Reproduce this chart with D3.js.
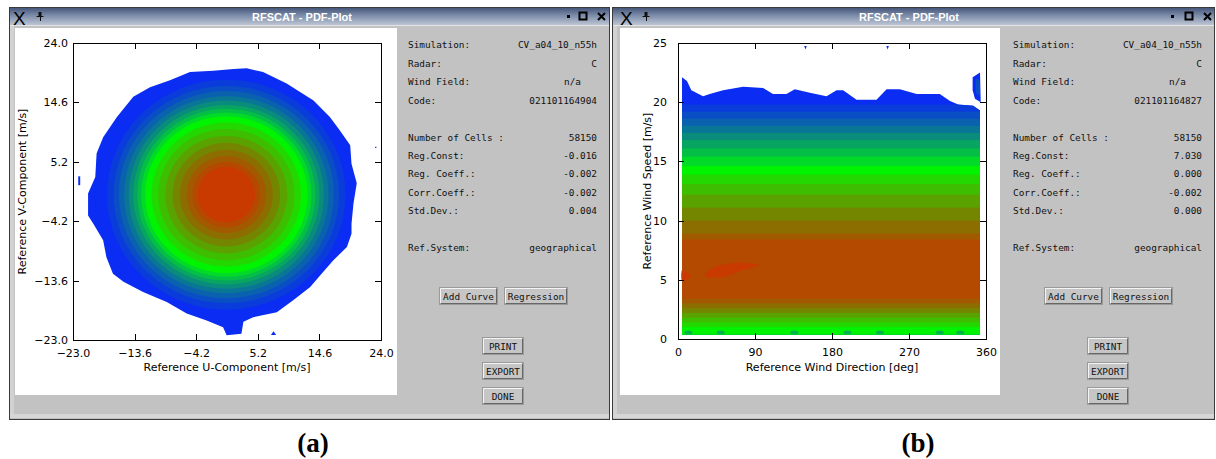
<!DOCTYPE html>
<html><head><meta charset="utf-8">
<script src="https://cdn.jsdelivr.net/npm/d3@7"></script>
<style>body{margin:0;background:#fff;overflow:hidden}svg{display:block}</style>
</head><body>
<svg id="c" width="1216" height="459"></svg>
<script>
// ---------------- data ----------------
const levelColors = ["#0b2cf2","#0a3cdc","#0a4ec6","#0a62ae","#0a7696","#0a8c7c","#07a462","#04be46","#02da28","#00f400","#22d800","#3ebe00","#5aa200","#748600","#8c6e00","#a25a00","#b44a00","#c83a00"];

const uvTicks = [-23.0, -13.6, -4.2, 5.2, 14.6, 24.0];
const speedTicks = [0, 5, 10, 15, 20, 25];
const dirTicks = [0, 90, 180, 270, 360];

// panel (a): outer (lowest) contour of the U/V PDF, [u, v] in m/s
const uvOuterBoundary = [[1.5,19.9],[3.5,20.0],[6.0,19.4],[9.6,17.6],[13.7,14.9],[16.2,12.3],[17.7,10.2],[19.3,7.8],[19.5,4.9],[20.3,1.8],[19.8,-1.4],[19.5,-4.6],[19.5,-6.2],[18.8,-8.3],[16.7,-10.4],[14.7,-12.8],[13.2,-14.6],[10.6,-16.7],[8.1,-18.6],[4.5,-19.4],[3.0,-20.1],[2.7,-22.0],[0.45,-22.25],[-0.1,-21.0],[-2.6,-19.9],[-5.65,-18.8],[-8.7,-17.0],[-12.3,-15.4],[-15.3,-13.8],[-16.9,-12.5],[-17.9,-9.9],[-18.4,-7.2],[-19.9,-4.6],[-20.7,-3.3],[-20.7,0.2],[-19.6,2.8],[-19.4,6.5],[-18.4,9.1],[-16.3,12.3],[-13.8,15.5],[-11.25,17.0],[-8.2,18.1],[-5.15,19.4],[-1.6,19.6]];
// panel (a): radii of the inner contour levels 1..17 around the centre
const uvCenter = [0.4, 0.0];
const uvBandRadii = [18.2, 17.2, 16.4, 15.6, 14.9, 14.2, 13.6, 13.0, 12.4, 11.4, 10.4, 9.3, 8.2, 7.1, 6.1, 5.2, 4.4];
// panel (a): small isolated patches
const uvSpecks = [
  [[-22.2,1.5],[-21.9,1.5],[-21.9,2.9],[-22.2,2.9]],
  [[7.2,-22.2],[8.0,-22.2],[7.6,-21.6]],
  [[23.1,7.4],[23.3,7.4],[23.3,7.6],[23.1,7.6]]
];

// panel (b): upper (lowest level) contour, [direction deg, speed m/s]
const dirTopBoundary = [[4.7,22.1],[10.5,21.8],[15.6,21.0],[29.3,20.5],[37.1,20.7],[52.7,21.0],[76,21.3],[99.5,21.2],[111,20.7],[126.8,20.7],[136.5,21.1],[154,20.8],[173.6,20.5],[185.3,21.0],[193,21.0],[208.7,20.2],[232,20.2],[243.8,21.1],[259.4,21.1],[278.9,20.7],[306,20.7],[317.9,20.1],[327.6,19.8],[345,19.7],[353,19.3]];
// panel (b): contour levels 1..16, lower / upper speed
const speedBandLow  = [0.35, 0.35, 0.35, 0.35, 0.35, 0.35, 0.35, 0.35, 0.38, 1.0, 1.4, 1.8, 2.2, 2.6, 3.0, 3.4];
const speedBandHigh = [19.8, 19.2, 18.6, 18.0, 17.4, 16.8, 16.1, 15.4, 14.6, 13.9, 13.1, 12.2, 11.1, 10.0, 8.9, 8.4];
const speedBottom = 0.35;
// panel (b): highest level patches
const speedPeakPatches = [
  [[31.2,5.41],[44.9,6.16],[72.2,6.44],[95.6,6.25],[76,5.83],[52.7,5.21],[37,5.21]],
  [[4.7,5.8],[15.5,5.3],[4.7,4.9]]
];
// panel (b): detached patch at upper right, and tiny marks at top
const dirBlob = [[344.4,22.1],[353,22.5],[353.8,20.0],[347.1,20.3],[344.4,21.0]];
const dirBlobInner = [[348,21.9],[352.5,21.8],[352.8,20.6],[348.5,20.8]];
const dirSpecks = [[[147.5,24.75],[150.5,24.75],[149,24.45]],[[243.5,24.75],[246.5,24.75],[245,24.45]]];
const dirBottomSpots = [12, 50, 136, 198, 236, 306, 330];

// statistics panels
const statLabels = ["Simulation:", "Radar:", "Wind Field:", "Code:", "", "Number of Cells :", "Reg.Const:", "Reg. Coeff.:", "Corr.Coeff.:", "Std.Dev.:", "", "Ref.System:"];
const statValuesA = ["CV_a04_10_n55h", "C", "n/a", "021101164904", "", "58150", "-0.016", "-0.002", "-0.002", "0.004", "", "geographical"];
const statValuesB = ["CV_a04_10_n55h", "C", "n/a", "021101164827", "", "58150", "7.030", "0.000", "-0.002", "0.000", "", "geographical"];
const buttonsTop = ["Add Curve", "Regression"];
const buttonsSide = ["PRINT", "EXPORT", "DONE"];
const windowTitle = "RFSCAT - PDF-Plot";
const captions = ["(a)", "(b)"];

// ---------------- drawing ----------------
const svg = d3.select("#c");
const defs = svg.append("defs");
const tg = defs.append("linearGradient").attr("id","tb").attr("x1",0).attr("y1",0).attr("x2",0).attr("y2",1);
tg.append("stop").attr("offset",0).attr("stop-color","#46577c");
tg.append("stop").attr("offset",0.45).attr("stop-color","#7d8daa");
tg.append("stop").attr("offset",1).attr("stop-color","#bcc5d4");

const win = [
  {x0:9, x1:610, wx0:15, wx1:397, titleCx:302, dot:567, sq:579, cross:598, xIcon:13, pin:40, off:0},
  {x0:612, x1:1215, wx0:620, wx1:1000, titleCx:909, dot:1171, sq:1185, cross:1204, xIcon:620, pin:646, off:605}
];

win.forEach((w, wi) => {
  const g = svg.append("g");
  g.append("rect").attr("x", w.x0).attr("y", 8).attr("width", w.x1 - w.x0).attr("height", 412).attr("fill", "#c2c2c2");
  g.append("rect").attr("x", w.x0 + 1).attr("y", 9).attr("width", 4).attr("height", 409).attr("fill", "#d2d2d2");
  g.append("rect").attr("x", w.x0 + 1).attr("y", 414).attr("width", w.x1 - w.x0 - 2).attr("height", 4).attr("fill", "#d6d6d6");
  g.append("rect").attr("x", w.x0 + 0.5).attr("y", 7.5).attr("width", w.x1 - w.x0 - 1).attr("height", 412).attr("fill", "none").attr("stroke", "#3a3a3a");
  g.append("rect").attr("x", w.x0 + 1).attr("y", 8).attr("width", w.x1 - w.x0 - 2).attr("height", 17).attr("fill", "url(#tb)");
  g.append("line").attr("x1", w.x0 + 1).attr("x2", w.x1 - 1).attr("y1", 25.5).attr("y2", 25.5).attr("stroke", "#e4e4e4");
  g.append("rect").attr("x", w.wx0).attr("y", 28).attr("width", w.wx1 - w.wx0).attr("height", 367).attr("fill", "#fff");
  // title bar items
  g.append("text").attr("x", w.titleCx).attr("y", 21).attr("text-anchor", "middle")
    .attr("font-family", "Liberation Sans").attr("font-weight", "bold").attr("font-size", 11).attr("fill", "#fff").text(windowTitle);
  g.append("text").attr("x", w.xIcon).attr("y", 24.5).attr("font-family", "Liberation Sans").attr("font-size", 19).attr("fill", "#000").text("X");
  g.append("rect").attr("x", w.pin - 1.5).attr("y", 12).attr("width", 3).attr("height", 4).attr("fill", "#111");
  g.append("line").attr("x1", w.pin - 3.5).attr("x2", w.pin + 3.5).attr("y1", 16.5).attr("y2", 16.5).attr("stroke", "#111");
  g.append("line").attr("x1", w.pin + 0.5).attr("x2", w.pin + 0.5).attr("y1", 16).attr("y2", 21).attr("stroke", "#111");
  g.append("rect").attr("x", w.dot).attr("y", 15).attr("width", 3).attr("height", 3).attr("fill", "#000");
  g.append("rect").attr("x", w.sq + 0.5).attr("y", 12.5).attr("width", 7).attr("height", 7).attr("fill", "none").attr("stroke", "#000").attr("stroke-width", 2);
  g.append("path").attr("d", `M${w.cross},13L${w.cross + 7},20M${w.cross + 7},13L${w.cross},20`).attr("stroke", "#000").attr("stroke-width", 2);
  // statistics
  const st = g.append("g").attr("font-family", "DejaVu Sans Mono").attr("font-size", 9.4).attr("fill", "#111");
  const vals = wi === 0 ? statValuesA : statValuesB;
  statLabels.forEach((lab, i) => {
    if (!lab) return;
    const y = 48.3 + i * 18.45;
    st.append("text").attr("x", 408 + w.off).attr("y", y).text(lab);
    const v = vals[i];
    st.append("text").attr("x", (v === "n/a" ? 581 : 597) + w.off).attr("y", y).attr("text-anchor", "end").text(v);
  });
  // buttons
  const btn = (x, y, bw, bh, label) => {
    const b = g.append("g");
    b.append("rect").attr("x", x + 0.5).attr("y", y + 0.5).attr("width", bw).attr("height", bh).attr("fill", "#c6c6c6").attr("stroke", "#9a9a9a");
    b.append("path").attr("d", `M${x + 1.5},${y + bh - 0.5}V${y + 1.5}H${x + bw - 0.5}`).attr("fill", "none").attr("stroke", "#f4f4f4");
    b.append("path").attr("d", `M${x + 1.5},${y + bh - 0.5}H${x + bw - 0.5}V${y + 1.5}`).attr("fill", "none").attr("stroke", "#666");
    b.append("text").attr("x", x + bw / 2 + 0.5).attr("y", y + bh / 2 + 4).attr("text-anchor", "middle")
      .attr("font-family", "DejaVu Sans Mono").attr("font-size", 9.4).attr("fill", "#111").text(label);
  };
  btn(439 + w.off, 287, 58, 17, buttonsTop[0]);
  btn(504 + w.off, 287, 63, 17, buttonsTop[1]);
  buttonsSide.forEach((lab, i) => btn(482 + w.off, 337 + i * 25, 41, 17, lab));
});

// caption
svg.selectAll("text.cap").data(captions).join("text").attr("class", "cap")
  .attr("x", (d, i) => i === 0 ? 313 : 918).attr("y", 452).attr("text-anchor", "middle")
  .attr("font-family", "Liberation Serif").attr("font-weight", "bold").attr("font-size", 27).attr("fill", "#000").text(d => d);

// ----- panel (a) -----
const xA = d3.scaleLinear().domain([-23, 24]).range([73, 381]);
const yA = d3.scaleLinear().domain([-23, 24]).range([340, 43]);
const gA = svg.append("g");
const lineA = d3.line().x(d => xA(d[0])).y(d => yA(d[1])).curve(d3.curveLinearClosed);
gA.append("path").attr("d", lineA(uvOuterBoundary)).attr("fill", levelColors[0]);
gA.selectAll("ellipse").data(uvBandRadii).join("ellipse")
  .attr("cx", xA(uvCenter[0])).attr("cy", yA(uvCenter[1]))
  .attr("rx", r => xA(uvCenter[0] + r) - xA(uvCenter[0]))
  .attr("ry", r => yA(uvCenter[1] - r) - yA(uvCenter[1]))
  .attr("fill", (r, i) => levelColors[i + 1]);
gA.selectAll("path.speck").data(uvSpecks).join("path").attr("class", "speck").attr("d", lineA).attr("fill", levelColors[0]);

function styleAxis(g) {
  g.attr("font-family", "DejaVu Sans").attr("font-size", 11);
  g.selectAll("line,path").attr("stroke", "#000").attr("shape-rendering", "crispEdges");
  g.selectAll("text").attr("fill", "#000");
}
const fmt1 = d3.format(".1f");
svg.append("g").attr("transform", `translate(0,340)`).call(d3.axisBottom(xA).tickValues(uvTicks).tickFormat(fmt1).tickSize(-6).tickSizeOuter(0).tickPadding(9)).call(styleAxis);
svg.append("g").attr("transform", `translate(0,43)`).call(d3.axisTop(xA).tickValues(uvTicks).tickFormat("").tickSize(-6).tickSizeOuter(0)).call(styleAxis);
svg.append("g").attr("transform", `translate(73,0)`).call(d3.axisLeft(yA).tickValues(uvTicks).tickFormat(fmt1).tickSize(-6).tickSizeOuter(0).tickPadding(5)).call(styleAxis);
svg.append("g").attr("transform", `translate(381,0)`).call(d3.axisRight(yA).tickValues(uvTicks).tickFormat("").tickSize(-6).tickSizeOuter(0)).call(styleAxis);
svg.append("text").attr("x", 227).attr("y", 371).attr("text-anchor", "middle").attr("font-family", "DejaVu Sans").attr("font-size", 11).text("Reference U-Component [m/s]");
svg.append("text").attr("transform", "translate(26,191.5) rotate(-90)").attr("text-anchor", "middle").attr("font-family", "DejaVu Sans").attr("font-size", 11).text("Reference V-Component [m/s]");

// ----- panel (b) -----
const xB = d3.scaleLinear().domain([0, 360]).range([678, 986]);
const yB = d3.scaleLinear().domain([0, 25]).range([339, 43]);
const gB = svg.append("g");
const areaTop = d3.area().x(d => xB(d[0])).y0(yB(speedBottom)).y1(d => yB(d[1]));
defs.append("clipPath").attr("id", "clipB").append("path").attr("d", areaTop(dirTopBoundary));
gB.append("path").attr("d", areaTop(dirTopBoundary)).attr("fill", levelColors[0]);
const dMin = dirTopBoundary[0][0], dMax = dirTopBoundary[dirTopBoundary.length - 1][0];
const bands = gB.append("g").attr("clip-path", "url(#clipB)");
bands.selectAll("rect").data(speedBandHigh).join("rect")
  .attr("x", xB(dMin)).attr("width", xB(dMax) - xB(dMin))
  .attr("y", d => yB(d)).attr("height", (d, i) => yB(speedBandLow[i]) - yB(d))
  .attr("fill", (d, i) => levelColors[i + 1]);
bands.selectAll("ellipse").data(dirBottomSpots).join("ellipse")
  .attr("cx", d => xB(d)).attr("cy", yB(0.55)).attr("rx", 4).attr("ry", 2).attr("fill", levelColors[6]).attr("opacity", 0.8);
const lineB = d3.line().x(d => xB(d[0])).y(d => yB(d[1])).curve(d3.curveCardinalClosed.tension(0.3));
const lineBL = d3.line().x(d => xB(d[0])).y(d => yB(d[1])).curve(d3.curveLinearClosed);
gB.selectAll("path.peak").data(speedPeakPatches).join("path").attr("class", "peak").attr("d", lineB).attr("fill", levelColors[17]);
gB.append("path").attr("d", lineBL(dirBlob)).attr("fill", levelColors[0]);
gB.append("path").attr("d", lineB(dirBlobInner)).attr("fill", levelColors[2]);
gB.selectAll("path.speck").data(dirSpecks).join("path").attr("class", "speck").attr("d", lineBL).attr("fill", levelColors[0]);

svg.append("g").attr("transform", `translate(0,339)`).call(d3.axisBottom(xB).tickValues(dirTicks).tickSize(-6).tickSizeOuter(0).tickPadding(9)).call(styleAxis);
svg.append("g").attr("transform", `translate(0,43)`).call(d3.axisTop(xB).tickValues(dirTicks).tickFormat("").tickSize(-6).tickSizeOuter(0)).call(styleAxis);
svg.append("g").attr("transform", `translate(678,0)`).call(d3.axisLeft(yB).tickValues(speedTicks).tickSize(-6).tickSizeOuter(0).tickPadding(11)).call(styleAxis);
svg.append("g").attr("transform", `translate(986,0)`).call(d3.axisRight(yB).tickValues(speedTicks).tickFormat("").tickSize(-6).tickSizeOuter(0)).call(styleAxis);
svg.append("text").attr("x", 832).attr("y", 371).attr("text-anchor", "middle").attr("font-family", "DejaVu Sans").attr("font-size", 11).text("Reference Wind Direction [deg]");
svg.append("text").attr("transform", "translate(651,191) rotate(-90)").attr("text-anchor", "middle").attr("font-family", "DejaVu Sans").attr("font-size", 11).text("Reference Wind Speed [m/s]");
</script>
</body></html>
